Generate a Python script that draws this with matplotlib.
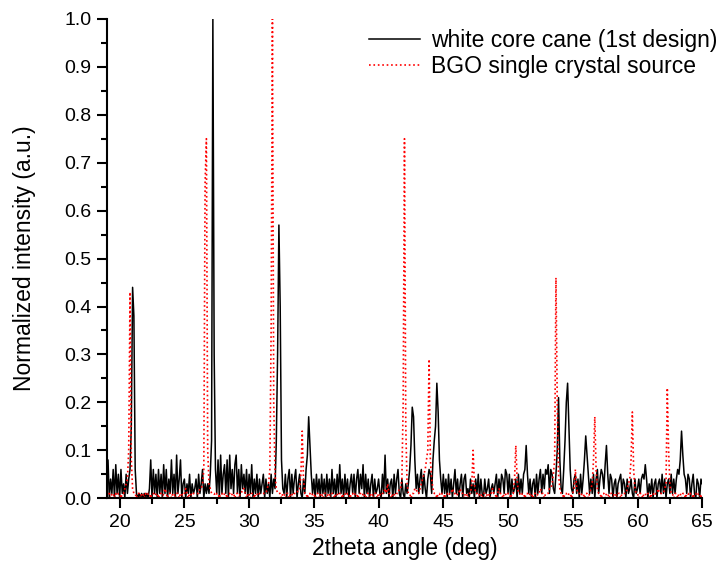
import numpy as np
import matplotlib
matplotlib.use("Agg")
import matplotlib.pyplot as plt
from matplotlib.ticker import MultipleLocator, FormatStrFormatter

plt.rcParams['font.family'] = ['Liberation Sans', 'DejaVu Sans']

########## Data ##########

# 2theta grid, 0.1 deg steps from 19 to 65
two_theta = np.round(np.arange(19.0, 65.05, 0.1), 1)

# white core cane (1st design), intensity in % of max, one row per degree
white_core_pct = [
    1, 8, 0, 4, 1, 6, 0, 7, 1, 5,        # 19
    0, 6, 1, 3, 0, 5, 1, 4, 6, 15,       # 20
    44, 38, 6, 1, 0, 1, 0, 1, 0, 1,      # 21
    0, 1, 0, 2, 8, 0, 6, 1, 5, 0,        # 22
    6, 1, 5, 0, 7, 1, 6, 0, 4, 1,        # 23
    8, 1, 5, 0, 9, 1, 4, 8, 0, 3,        # 24
    4, 0, 3, 1, 5, 0, 3, 1, 2, 4,        # 25
    0, 5, 1, 3, 6, 0, 3, 1, 3, 1,        # 26
    5, 12, 100, 30, 6, 1, 8, 0, 9, 1,    # 27
    5, 7, 1, 8, 0, 9, 2, 6, 1, 7,        # 28
    9, 1, 6, 0, 7, 2, 5, 1, 6, 0,        # 29
    5, 1, 7, 0, 4, 1, 5, 0, 4, 1,        # 30
    3, 5, 0, 4, 1, 3, 0, 5, 1, 4,        # 31
    2, 12, 30, 57, 40, 8, 2, 1, 5, 0,    # 32
    4, 6, 0, 5, 1, 4, 6, 0, 3, 5,        # 33
    1, 0, 4, 1, 6, 9, 17, 11, 5, 1,      # 34
    4, 0, 5, 1, 4, 0, 5, 1, 4, 0,        # 35
    5, 1, 4, 0, 6, 1, 4, 0, 5, 1,        # 36
    7, 1, 4, 0, 5, 1, 4, 0, 3, 5,        # 37
    1, 5, 0, 4, 6, 1, 5, 2, 7, 0,        # 38
    5, 1, 4, 0, 3, 5, 0, 4, 1, 2,        # 39
    4, 1, 0, 5, 1, 9, 1, 4, 0, 3,        # 40
    4, 0, 5, 1, 4, 6, 1, 0, 4, 1,        # 41
    0, 3, 1, 3, 6, 11, 19, 17, 8, 2,     # 42
    5, 1, 4, 6, 1, 5, 2, 0, 4, 6,        # 43
    5, 1, 8, 12, 15, 24, 18, 8, 4, 1,    # 44
    5, 1, 4, 0, 5, 1, 4, 0, 3, 6,        # 45
    1, 4, 0, 3, 5, 0, 4, 5, 1, 2,        # 46
    0, 4, 1, 3, 0, 4, 1, 5, 0, 4,        # 47
    1, 0, 4, 1, 2, 4, 0, 2, 3, 1,        # 48
    3, 5, 0, 4, 1, 5, 4, 1, 6, 5,        # 49
    1, 5, 0, 4, 1, 2, 4, 0, 5, 1,        # 50
    4, 1, 5, 6, 11, 5, 1, 4, 0, 3,       # 51
    4, 0, 5, 1, 4, 6, 1, 5, 2, 6,        # 52
    5, 7, 1, 6, 5, 2, 1, 5, 10, 21,      # 53
    8, 2, 1, 6, 12, 20, 24, 15, 6, 2,    # 54
    1, 4, 5, 1, 4, 0, 5, 1, 4, 8,        # 55
    13, 9, 5, 1, 4, 1, 5, 0, 4, 6,       # 56
    1, 4, 6, 5, 2, 7, 11, 5, 1, 5,       # 57
    4, 0, 3, 4, 0, 3, 4, 5, 1, 4,        # 58
    3, 0, 4, 1, 2, 4, 1, 0, 4, 1,        # 59
    2, 4, 1, 4, 5, 4, 7, 4, 0, 3,        # 60
    1, 4, 0, 3, 4, 0, 3, 4, 1, 5,        # 61
    1, 4, 0, 3, 4, 1, 5, 1, 4, 1,        # 62
    4, 6, 5, 8, 14, 9, 5, 4, 1, 5,       # 63
    4, 0, 3, 5, 1, 0, 4, 3, 0, 4,        # 64
    3,                                   # 65
]

# BGO single crystal source, intensity in % of max, one row per degree
bgo_pct = [
    1, 0, 1, 0, 1, 1, 0, 1, 0, 1,        # 19
    1, 0, 1, 1, 2, 3, 4, 10, 43, 8,      # 20
    2, 1, 1, 0, 1, 1, 0, 1, 1, 0,        # 21
    1, 0, 1, 1, 0, 1, 1, 0, 1, 1,        # 22
    0, 1, 1, 0, 1, 2, 1, 0, 1, 1,        # 23
    0, 1, 1, 0, 1, 1, 0, 1, 1, 0,        # 24
    1, 2, 1, 0, 1, 1, 0, 1, 1, 1,        # 25
    1, 1, 2, 2, 3, 6, 66, 75, 10, 3,     # 26
    2, 1, 1, 1, 0, 1, 1, 0, 1, 1,        # 27
    0, 1, 1, 0, 1, 1, 0, 1, 1, 0,        # 28
    1, 1, 0, 1, 1, 2, 2, 1, 0, 1,        # 29
    1, 0, 1, 1, 0, 1, 1, 0, 1, 1,        # 30
    1, 1, 1, 1, 2, 3, 6, 35, 100, 20,    # 31
    5, 2, 1, 1, 1, 0, 1, 1, 0, 1,        # 32
    1, 0, 1, 1, 0, 1, 1, 1, 2, 2,        # 33
    5, 14, 4, 1, 1, 0, 1, 1, 0, 1,       # 34
    1, 0, 1, 1, 0, 1, 1, 0, 1, 1,        # 35
    0, 1, 1, 0, 1, 1, 0, 1, 1, 0,        # 36
    1, 1, 0, 1, 1, 0, 1, 1, 0, 1,        # 37
    1, 0, 1, 1, 0, 1, 1, 0, 1, 1,        # 38
    0, 1, 1, 0, 1, 1, 0, 1, 1, 0,        # 39
    1, 1, 0, 1, 1, 2, 1, 3, 1, 1,        # 40
    0, 1, 1, 0, 1, 1, 2, 2, 4, 20,       # 41
    75, 15, 3, 1, 1, 0, 1, 1, 2, 2,      # 42
    1, 1, 2, 3, 4, 5, 6, 8, 10, 29,      # 43
    8, 4, 2, 1, 1, 0, 1, 1, 0, 1,        # 44
    1, 0, 1, 1, 0, 1, 1, 2, 1, 1,        # 45
    0, 1, 1, 2, 1, 1, 0, 1, 1, 0,        # 46
    1, 1, 3, 10, 3, 1, 1, 0, 1, 1,       # 47
    0, 1, 1, 0, 1, 1, 0, 1, 2, 1,        # 48
    1, 0, 1, 2, 1, 1, 0, 1, 1, 0,        # 49
    1, 1, 0, 1, 1, 4, 11, 4, 1, 1,       # 50
    0, 1, 1, 0, 1, 1, 0, 1, 1, 0,        # 51
    1, 1, 0, 1, 1, 2, 1, 1, 0, 1,        # 52
    1, 1, 2, 2, 3, 5, 8, 46, 20, 5,      # 53
    2, 1, 1, 0, 1, 1, 0, 1, 1, 0,        # 54
    1, 2, 6, 2, 1, 1, 0, 1, 1, 0,        # 55
    1, 1, 0, 1, 2, 3, 8, 17, 6, 2,       # 56
    1, 1, 0, 1, 1, 0, 1, 1, 0, 1,        # 57
    1, 0, 1, 1, 0, 1, 1, 0, 1, 1,        # 58
    1, 1, 2, 3, 4, 8, 18, 6, 2, 1,       # 59
    1, 0, 1, 1, 0, 1, 1, 0, 1, 1,        # 60
    0, 1, 1, 0, 1, 1, 2, 1, 1, 1,        # 61
    1, 2, 3, 23, 10, 3, 1, 1, 0, 1,      # 62
    1, 0, 1, 1, 0, 1, 1, 0, 1, 1,        # 63
    0, 1, 1, 0, 1, 1, 0, 1, 1, 0,        # 64
    1,                                   # 65
]

legend_labels = ["white core cane (1st design)", "BGO single crystal source"]


########## Plot ##########

fig = plt.figure(figsize=(7.21, 5.74), dpi=100)
ax = fig.add_axes([0.148, 0.132, 0.826, 0.835])

ax.plot(two_theta, np.array(white_core_pct) / 100, color="black", lw=1.1, label=legend_labels[0])
ax.plot(two_theta, np.array(bgo_pct) / 100, color="red", lw=1.2, ls=":", label=legend_labels[1])

ax.set_xlim(19, 65)
ax.set_ylim(0, 1.0)
ax.xaxis.set_major_locator(MultipleLocator(5))
ax.xaxis.set_minor_locator(MultipleLocator(2.5))
ax.yaxis.set_major_locator(MultipleLocator(0.1))
ax.yaxis.set_minor_locator(MultipleLocator(0.05))
ax.yaxis.set_major_formatter(FormatStrFormatter("%.1f"))

for side in ["top", "right"]:
    ax.spines[side].set_visible(False)
for side in ["left", "bottom"]:
    ax.spines[side].set_linewidth(1.5)

ax.tick_params(which="major", direction="out", length=7, width=1.5, labelsize=14, pad=4)
ax.tick_params(which="minor", direction="out", length=4, width=1.5)

ax.set_xlabel("2theta angle (deg)", fontsize=16.5, labelpad=5)
ax.set_ylabel("Normalized intensity (a.u.)", fontsize=16.5, labelpad=20)

ax.legend(loc="upper right", bbox_to_anchor=(1.06, 1.023), frameon=False, fontsize=16.5,
          handlelength=2.2, handletextpad=0.5, labelspacing=0.15)

fig.savefig("out.png", dpi=100)
